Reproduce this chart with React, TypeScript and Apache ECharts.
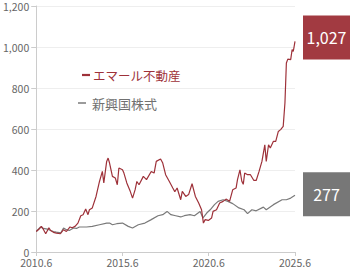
import React, { useEffect, useRef } from "react";
import * as echarts from "echarts";

// months since 2010.6
const redMonth = [0, 2, 3.6, 5, 6.6, 8.8, 10, 12, 14, 16.8, 19, 21, 23.5, 25, 27, 29, 31, 32.6, 34.4, 36, 37, 39, 41.6, 44, 46, 47, 49, 50, 51, 53, 55, 56.4, 57.5, 60, 61, 63, 65.4, 67, 68.8, 70, 71.5, 74.5, 76.7, 80, 82, 83.5, 86.5, 88, 90, 92.6, 95, 96.4, 98, 100.5, 101.6, 104, 106, 108.4, 110.7, 113, 115, 116.3, 117.5, 119.7, 122, 123, 125.4, 127.6, 130, 132, 134.5, 136.7, 139, 140, 141.7, 143, 144, 145, 147, 149, 151.4, 153, 155, 157, 159, 160, 161.6, 162.8, 165, 166.6, 168.4, 170, 171.8, 173, 174, 175, 177, 178, 178.8, 180];
const redValue = [100, 112, 125, 110, 89, 118, 105, 96, 92, 89, 109, 100, 122, 118, 125, 141, 177, 182, 210, 182, 206, 215, 271, 344, 393, 337, 442, 458, 434, 369, 361, 328, 410, 401, 385, 337, 296, 263, 304, 344, 328, 369, 353, 393, 385, 442, 454, 434, 377, 344, 312, 294, 312, 255, 296, 271, 280, 333, 271, 239, 206, 141, 158, 154, 166, 198, 206, 239, 247, 258, 247, 304, 312, 353, 401, 345, 330, 385, 377, 377, 349, 349, 393, 442, 523, 442, 523, 507, 540, 540, 588, 597, 613, 727, 922, 941, 938, 987, 978, 1027];

const grayMonth = [0, 3, 5, 7.7, 10, 12, 14, 17, 19, 21, 23, 26, 28, 30, 35, 39, 44, 49, 51, 53, 56, 60, 64, 67, 71, 75.6, 80, 84.7, 88, 91, 93.7, 97, 100.5, 103, 107, 110, 114, 116, 118.6, 121, 124, 126.5, 130, 133.3, 136.7, 141, 144.6, 147, 150, 153, 158, 160, 165, 171, 174, 177, 180];
const grayValue = [100, 122, 115, 112, 105, 100, 97, 93, 117, 109, 105, 117, 115, 122, 122, 125, 133, 141, 141, 133, 138, 141, 125, 117, 133, 141, 158, 177, 182, 198, 182, 177, 171, 177, 182, 177, 198, 166, 190, 206, 231, 247, 255, 247, 236, 215, 206, 187, 206, 201, 219, 206, 231, 255, 255, 263, 277];

const yTicks = [0, 200, 400, 600, 800, 1000, 1200];
const xTickMonths = [0, 60, 120, 180];

const seriesNames = ["エマール不動産", "新興国株式"];

const RED = "#9e3139";
const RED_BOX = "#a23a41";
const GRAY = "#7a7a7a";
const GRAY_BOX = "#777777";
const FONT = "Noto Sans CJK JP";

export default function App() {
  const ref = useRef<HTMLDivElement>(null);
  useEffect(() => {
    if (!ref.current) return;
    const chart = echarts.init(ref.current, undefined, { renderer: "svg" });
    const fmt = (v: number) => v.toLocaleString("en-US");
    chart.setOption({
      animation: false,
      textStyle: { fontFamily: FONT },
      grid: { left: 30, right: 55, top: 6, bottom: 17 },
      xAxis: {
        type: "value",
        min: xTickMonths[0],
        max: xTickMonths[xTickMonths.length - 1],
        interval: 60,
        axisLine: { lineStyle: { color: "#cccccc" } },
        axisTick: { show: true, length: 4, lineStyle: { color: "#cccccc" } },
        axisLabel: {
          color: "#666",
          fontSize: 10.5,
          margin: 5,
          fontFamily: FONT,
          formatter: (v: number) => `${2010 + v / 12}.6`,
        },
        splitLine: { show: false },
      },
      yAxis: {
        type: "value",
        min: yTicks[0],
        max: yTicks[yTicks.length - 1],
        interval: 200,
        axisLine: { show: true, lineStyle: { color: "#cccccc" } },
        axisTick: { show: true, length: 5, lineStyle: { color: "#cccccc" } },
        axisLabel: {
          color: "#666",
          fontSize: 10.5,
          margin: 7,
          fontFamily: FONT,
          formatter: (v: number) => fmt(v),
        },
        splitLine: { lineStyle: { color: "#eeeeee" } },
      },
      series: [
        {
          name: seriesNames[1],
          type: "line",
          data: grayMonth.map((m, i) => [m, grayValue[i]]),
          showSymbol: false,
          lineStyle: { color: GRAY, width: 1.2 },
          itemStyle: { color: GRAY },
          z: 2,
          endLabel: {
            show: true,
            distance: 8,
            offset: [0, -1],
            formatter: (p: any) => `{b|${fmt(p.value[1])}}`,
            rich: {
              b: {
                width: 47,
                height: 44,
                lineHeight: 44,
                align: "center",
                backgroundColor: GRAY_BOX,
                color: "#fff",
                fontSize: 16,
                fontFamily: FONT,
              },
            },
          },
        },
        {
          name: seriesNames[0],
          type: "line",
          data: redMonth.map((m, i) => [m, redValue[i]]),
          showSymbol: false,
          lineStyle: { color: RED, width: 1.2 },
          itemStyle: { color: RED },
          z: 3,
          endLabel: {
            show: true,
            distance: 8,
            offset: [0, -4],
            formatter: (p: any) => `{b|${fmt(p.value[1])}}`,
            rich: {
              b: {
                width: 47,
                height: 44,
                lineHeight: 44,
                align: "center",
                backgroundColor: RED_BOX,
                color: "#fff",
                fontSize: 16,
                fontFamily: FONT,
              },
            },
          },
        },
      ],
      graphic: [
        { type: "line", shape: { x1: 82, y1: 75, x2: 90, y2: 75 }, style: { stroke: RED, lineWidth: 2.2 } },
        { type: "text", x: 93, y: 75, style: { text: seriesNames[0], fill: RED, fontSize: 12.5, fontFamily: FONT, verticalAlign: "middle" } },
        { type: "line", shape: { x1: 78, y1: 103, x2: 86, y2: 103 }, style: { stroke: GRAY, lineWidth: 1.5 } },
        { type: "text", x: 92, y: 103, style: { text: seriesNames[1], fill: "#707070", fontSize: 13, fontFamily: FONT, verticalAlign: "middle" } },
      ],
    });
    return () => chart.dispose();
  }, []);
  return <div ref={ref} style={{ width: 350, height: 269, position: "absolute", left: 0, top: 0 }} />;
}
